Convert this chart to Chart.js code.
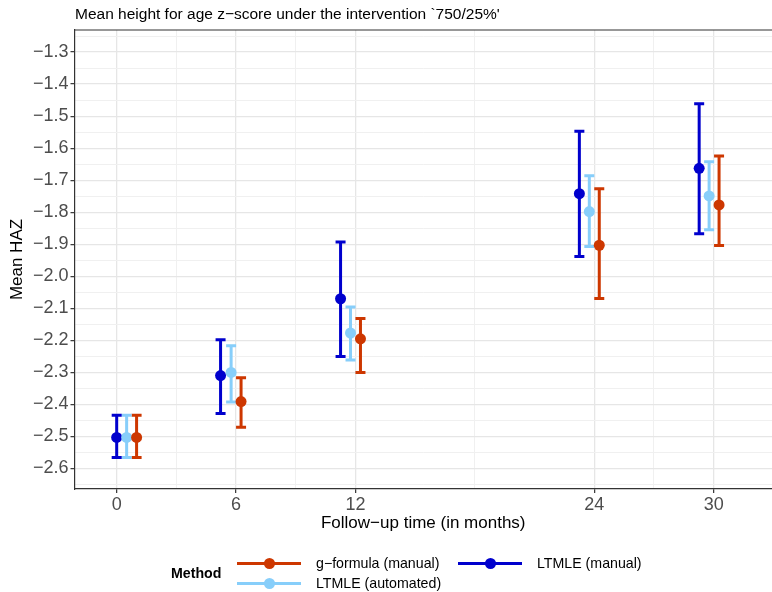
<!DOCTYPE html>
<html lang="en">
  <head>
    <meta charset="UTF-8" />
    <title>Mean HAZ by follow-up time</title>
    <script src="https://cdn.jsdelivr.net/npm/chart.js"></script>
    <style>
      body {
        margin: 0;
        background: #fff;
        font-family: "Liberation Sans", Arial, sans-serif;
      }
      #wrap {
        position: relative;
        width: 772px;
        height: 592px;
      }
      #title {
        position: absolute;
        left: 75px;
        top: 5px;
        font-size: 15.5px;
        line-height: 18px;
        color: #000;
        white-space: nowrap;
      }
      .lab {
        position: absolute;
        font-size: 14.2px;
        line-height: 16px;
        color: #000;
        white-space: nowrap;
      }
      .key {
        position: absolute;
        width: 64px;
        height: 3.5px;
      }
      .dot {
        position: absolute;
        width: 11px;
        height: 11px;
        border-radius: 50%;
        left: 26.5px;
        top: -3.75px;
      }
    </style>
  </head>
  <body>
    <div id="wrap">
      <canvas id="chart" width="772" height="592"></canvas>
      <div id="title">Mean height for age z−score under the intervention `750/25%'</div>
      <div id="legend"></div>
    </div>

    <script>
      // follow-up times shown on the axis
      const times = [0, 6, 12, 24, 30];
      const minorTimes = [3, 9, 18, 27];

      // dodged x positions (months) for each method
      const gformX = [1.0, 6.25, 12.25, 24.25, 30.27];
      const autoX = [0.5, 5.75, 11.75, 23.75, 29.77];
      const manualX = [0, 5.22, 11.25, 23.25, 29.27];

      // g-formula (manual)
      const gformMean = [-2.503, -2.391, -2.195, -1.903, -1.777];
      const gformLo = [-2.566, -2.471, -2.3, -2.069, -1.904];
      const gformHi = [-2.434, -2.317, -2.132, -1.727, -1.624];

      // LTMLE (automated)
      const autoMean = [-2.503, -2.3, -2.177, -1.798, -1.749];
      const autoLo = [-2.566, -2.392, -2.261, -1.907, -1.855];
      const autoHi = [-2.434, -2.217, -2.096, -1.686, -1.642];

      // LTMLE (manual)
      const manualMean = [-2.503, -2.31, -2.07, -1.742, -1.663];
      const manualLo = [-2.566, -2.428, -2.25, -1.938, -1.867];
      const manualHi = [-2.434, -2.198, -1.893, -1.547, -1.461];

      const yMajor = [-2.6, -2.5, -2.4, -2.3, -2.2, -2.1, -2.0, -1.9, -1.8, -1.7, -1.6, -1.5, -1.4, -1.3];
      const yMinor = [-2.65, -2.55, -2.45, -2.35, -2.25, -2.15, -2.05, -1.95, -1.85, -1.75, -1.65, -1.55, -1.45, -1.35, -1.25];

      const colGform = "#CD3700";
      const colAuto = "#87CEFA";
      const colManual = "#0000CD";

      function pts(xs, mean, lo, hi) {
        return xs.map((x, i) => ({ x: x, y: mean[i], lo: lo[i], hi: hi[i] }));
      }

      const isMajor = (v, list) => list.some((m) => Math.abs(m - v) < 1e-6);

      const errorBars = {
        id: "errorBars",
        beforeDatasetsDraw(chart) {
          const { ctx } = chart;
          const x = chart.scales.x;
          const y = chart.scales.y;
          chart.data.datasets.forEach((ds) => {
            ctx.save();
            ctx.strokeStyle = ds.borderColor;
            ctx.lineWidth = 3;
            ds.data.forEach((p) => {
              const px = x.getPixelForValue(p.x);
              const top = y.getPixelForValue(p.hi);
              const bot = y.getPixelForValue(p.lo);
              ctx.beginPath();
              ctx.moveTo(px, top);
              ctx.lineTo(px, bot);
              ctx.moveTo(px - 5, top);
              ctx.lineTo(px + 5, top);
              ctx.moveTo(px - 5, bot);
              ctx.lineTo(px + 5, bot);
              ctx.stroke();
            });
            ctx.restore();
          });
        },
        afterDraw(chart) {
          // top panel line
          const { ctx, chartArea } = chart;
          ctx.save();
          ctx.strokeStyle = "#333333";
          ctx.lineWidth = 1.2;
          ctx.beginPath();
          ctx.moveTo(chartArea.left, chartArea.top);
          ctx.lineTo(chart.width, chartArea.top);
          ctx.stroke();
          ctx.restore();
        },
      };

      const ctx = document.getElementById("chart").getContext("2d");
      const chart = new Chart(ctx, {
        type: "scatter",
        data: {
          datasets: [
            {
              label: "g−formula (manual)",
              data: pts(gformX, gformMean, gformLo, gformHi),
              backgroundColor: colGform,
              borderColor: colGform,
            },
            {
              label: "LTMLE (automated)",
              data: pts(autoX, autoMean, autoLo, autoHi),
              backgroundColor: colAuto,
              borderColor: colAuto,
            },
            {
              label: "LTMLE (manual)",
              data: pts(manualX, manualMean, manualLo, manualHi),
              backgroundColor: colManual,
              borderColor: colManual,
            },
          ],
        },
        options: {
          responsive: false,
          animation: false,
          elements: {
            point: { radius: 5.5, borderWidth: 0, hoverRadius: 5.5 },
          },
          layout: { autoPadding: false, padding: { top: 30, right: 0, left: 0, bottom: 50 } },
          plugins: {
            legend: { display: false },
            tooltip: { enabled: false },
          },
          scales: {
            x: {
              type: "linear",
              min: -2.12,
              max: 32.93,
              afterFit(s) {
                s.height = 53;
                s.paddingLeft = 0;
                s.paddingRight = 0;
              },
              afterBuildTicks(s) {
                s.ticks = times.concat(minorTimes).sort((a, b) => a - b).map((v) => ({ value: v }));
              },
              ticks: {
                autoSkip: false,
                maxRotation: 0,
                padding: 1,
                color: "#4D4D4D",
                font: { family: "Liberation Sans", size: 18 },
                callback: (v) => (isMajor(v, times) ? String(v) : ""),
              },
              grid: {
                color: (c) => (c.tick && isMajor(c.tick.value, times) ? "#E6E6E6" : "#F0F0F0"),
                lineWidth: (c) => (c.tick && isMajor(c.tick.value, times) ? 1.3 : 1),
                tickColor: (c) => (c.tick && isMajor(c.tick.value, times) ? "#333333" : "rgba(0,0,0,0)"),
                tickLength: 4,
                tickWidth: 1.2,
              },
              border: { display: true, color: "#333333", width: 1.2 },
              title: {
                display: true,
                text: "Follow−up time (in months)",
                color: "#000",
                font: { family: "Liberation Sans", size: 17 },
                padding: { top: 0, bottom: 8 },
              },
            },
            y: {
              min: -2.664,
              max: -1.231,
              afterFit(s) {
                s.width = 74.5;
                s.paddingTop = 0;
                s.paddingBottom = 0;
              },
              afterBuildTicks(s) {
                s.ticks = yMinor.concat(yMajor).sort((a, b) => a - b).map((v) => ({ value: v }));
              },
              ticks: {
                autoSkip: false,
                padding: 2,
                color: "#4D4D4D",
                font: { family: "Liberation Sans", size: 18 },
                callback: (v) => (isMajor(v, yMajor) ? v.toFixed(1).replace("-", "−") : ""),
              },
              grid: {
                color: (c) => (c.tick && isMajor(c.tick.value, yMajor) ? "#E6E6E6" : "#F0F0F0"),
                lineWidth: (c) => (c.tick && isMajor(c.tick.value, yMajor) ? 1.3 : 1),
                tickColor: (c) => (c.tick && isMajor(c.tick.value, yMajor) ? "#333333" : "rgba(0,0,0,0)"),
                tickLength: 4,
                tickWidth: 1.2,
              },
              border: { display: true, color: "#333333", width: 1.2 },
              title: {
                display: true,
                text: "Mean HAZ",
                color: "#000",
                font: { family: "Liberation Sans", size: 17 },
                padding: { top: 7, bottom: 0 },
              },
            },
          },
        },
        plugins: [errorBars],
      });

      // legend built from the dataset labels and colours
      const legendItems = [
        { ds: 0, left: 237, cy: 563.3 },
        { ds: 2, left: 458, cy: 563.3 },
        { ds: 1, left: 237, cy: 583.3 },
      ];
      const legend = document.getElementById("legend");
      let html = '<div class="lab" style="left:171px;top:565px;font-weight:bold;">Method</div>';
      legendItems.forEach((it) => {
        const ds = chart.data.datasets[it.ds];
        html +=
          '<div class="key" style="left:' + it.left + "px;top:" + (it.cy - 1.75) + "px;background:" + ds.borderColor + ';">' +
          '<div class="dot" style="background:' + ds.borderColor + ';"></div></div>' +
          '<div class="lab" style="left:' + (it.left + 79) + "px;top:" + (it.cy - 8) + 'px;">' + ds.label + "</div>";
      });
      legend.innerHTML = html;
    </script>
  </body>
</html>
